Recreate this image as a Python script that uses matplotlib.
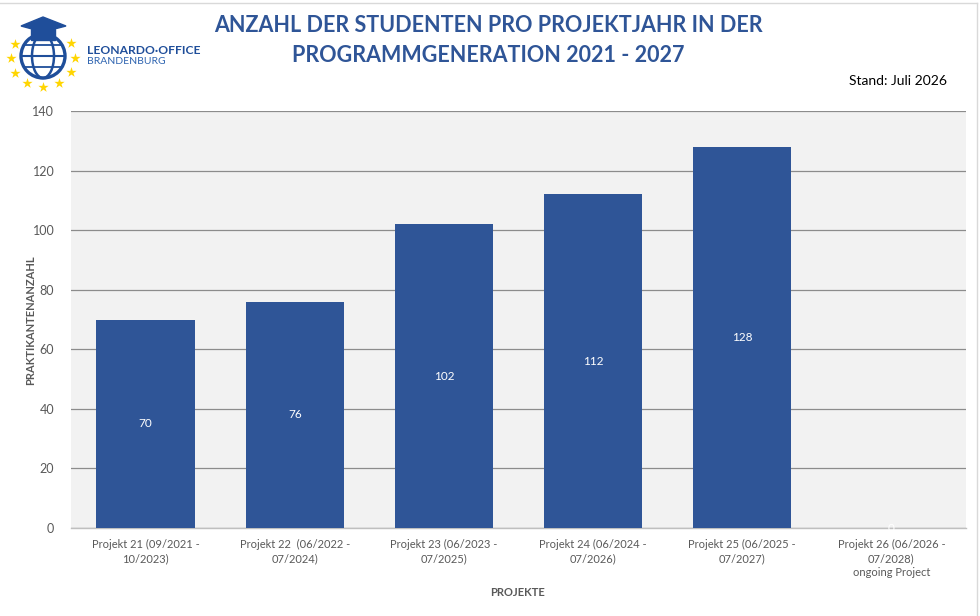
import numpy as np
import matplotlib.pyplot as plt
from matplotlib.patches import Circle, Ellipse, Polygon

# data
projects = [
    "Projekt 21 (09/2021 -\n10/2023)",
    "Projekt 22  (06/2022 -\n07/2024)",
    "Projekt 23 (06/2023 -\n07/2025)",
    "Projekt 24 (06/2024 -\n07/2026)",
    "Projekt 25 (06/2025 -\n07/2027)",
    "Projekt 26 (06/2026 -\n07/2028)\nongoing Project",
]
students = [70, 76, 102, 112, 128, 0]
y_ticks = [0, 20, 40, 60, 80, 100, 120, 140]

blue = "#2F5597"
grey_text = "#595959"
font = "Lato"

W, H = 980, 616
fig = plt.figure(figsize=(W / 100, H / 100), dpi=100)

# main plot
ax = fig.add_axes([71 / W, 1 - 528 / H, (966 - 71) / W, (528 - 111) / H])
ax.set_facecolor("#F2F2F2")
x = np.arange(len(students))
bars = ax.bar(x, students, width=0.66, color=blue, zorder=3)
for xi, v in zip(x, students):
    ax.text(xi, v / 2, str(v), color="white", ha="center", va="center",
            fontsize=8.5, family=font, zorder=4)

ax.set_xlim(-0.5, len(students) - 0.5)
ax.set_ylim(0, 140)
ax.set_yticks(y_ticks)
ax.yaxis.grid(True, color="#8C8C8C", linewidth=0.9, zorder=1)
ax.tick_params(axis="y", length=0, pad=12, labelsize=9, labelcolor=grey_text)
ax.tick_params(axis="x", length=0, pad=8, labelsize=8, labelcolor=grey_text)
for lbl in ax.get_yticklabels() + ax.get_xticklabels():
    lbl.set_family(font)
ax.set_xticks(x)
ax.set_xticklabels(projects, linespacing=1.3)
for s in ["top", "right", "left"]:
    ax.spines[s].set_visible(False)
ax.spines["bottom"].set_color("#BFBFBF")
ax.spines["bottom"].set_linewidth(1)

fig.text(31 / W, 1 - 320 / H, "PRAKTIKANTENANZAHL", rotation=90, ha="center",
         va="center", fontsize=8, fontweight="bold", color=grey_text, family=font)
fig.text(517 / W, 1 - 592 / H, "PROJEKTE", ha="center", va="center",
         fontsize=8, fontweight="bold", color=grey_text, family=font)

# title
fig.text(488 / W, 1 - 25 / H, "ANZAHL DER STUDENTEN PRO PROJEKTJAHR IN DER",
         ha="center", va="center", fontsize=15.5, fontweight="bold", color=blue, family=font)
fig.text(488 / W, 1 - 55 / H, "PROGRAMMGENERATION 2021 - 2027",
         ha="center", va="center", fontsize=15.5, fontweight="bold", color=blue, family=font)
fig.text(947 / W, 1 - 81 / H, "Stand: Juli 2026", ha="right", va="center",
         fontsize=10, color="black", family=font)

# logo
lax = fig.add_axes([0, 1 - 100 / H, 100 / W, 100 / H])
lax.set_xlim(0, 100)
lax.set_ylim(100, 0)
lax.set_aspect("equal")
lax.axis("off")
cx, cy = 43, 58
ang = np.linspace(0, 2 * np.pi, 13)[:-1] + np.pi / 2
sx = cx + 32 * np.cos(ang)
sy = cy + 29 * np.sin(ang)
keep = np.abs(sy - (cy - 29)) > 5
lax.scatter(sx[keep], sy[keep], marker="*", s=60, color="#FFD500", linewidths=0)
lax.add_patch(Circle((cx, cy - 2), 22, fill=False, ec="#1F4E9A", lw=2.4))
lax.add_patch(Ellipse((cx, cy - 2), 22, 44, fill=False, ec="#1F4E9A", lw=1.8))
lax.plot([cx - 22, cx + 22], [cy - 2, cy - 2], color="#1F4E9A", lw=1.5)
lax.plot([cx - 19, cx + 19], [cy - 13, cy - 13], color="#1F4E9A", lw=1.3)
lax.plot([cx - 19, cx + 19], [cy + 9, cy + 9], color="#1F4E9A", lw=1.3)
lax.add_patch(Polygon([[21, 26], [43, 17], [66, 26], [43, 32]], color="#1F4E9A"))
lax.add_patch(Polygon([[31, 29], [55, 29], [55, 40], [31, 40]], color="#1F4E9A"))
fig.text(87 / W, 1 - 51 / H, "LEONARDO\u00b7OFFICE", ha="left", va="center",
         fontsize=8.7, fontweight="bold", color="#1F4E9A", family=font)
fig.text(87 / W, 1 - 62 / H, "BRANDENBURG", ha="left", va="center",
         fontsize=7.5, color="#2E64B0", family=font)

# frame
fig.add_artist(plt.Line2D([977 / W, 977 / W], [0, 1 - 3 / H], color="#D9D9D9", lw=1))
fig.add_artist(plt.Line2D([0, 977 / W], [1 - 3 / H, 1 - 3 / H], color="#D9D9D9", lw=1))

fig.savefig("out.png", dpi=100)
